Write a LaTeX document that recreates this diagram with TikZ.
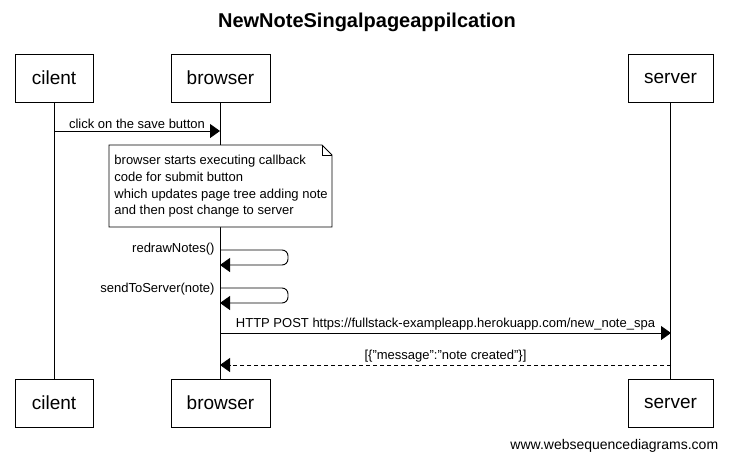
\documentclass[tikz,border=0pt]{standalone}
\usepackage{fontspec}
\setmainfont{Liberation Sans}
\usetikzlibrary{arrows.meta,positioning,calc}
\tikzset{
  actor/.style={draw,minimum height=48pt,inner sep=0pt,font=\fontsize{19}{22}\selectfont},
  msg/.style={-{Triangle[length=10pt,width=14pt]}},
  reply/.style={msg,dash pattern=on 4pt off 3pt},
  lbl/.style={font=\fontsize{13}{15}\selectfont,inner sep=1pt}
}
\begin{document}
\begin{tikzpicture}[x=1pt,y=-1pt,line width=0.9pt]
\useasboundingbox (0,0) rectangle (729,461);
\node[font=\bfseries\fontsize{20}{23}\selectfont] (title) at (367,22) {NewNoteSingalpageappilcation};
% participants, top and bottom
\node[actor,minimum width=78pt] (cilent) at (54,78) {cilent};
\node[actor,minimum width=99pt] (browser) at (220.5,78) {browser};
\node[actor,minimum width=85pt] (server) at (670.5,78) {server};
\node[actor,minimum width=78pt] (cilent2) at (54,403) {cilent};
\node[actor,minimum width=99pt] (browser2) at (220.5,403) {browser};
\node[actor,minimum width=85pt] (server2) at (670.5,403) {server};
\draw (cilent) -- (cilent2);
\draw (browser) -- (browser2);
\draw (server) -- (server2);
% message ends
\coordinate (m1a) at (54,131);
\coordinate (m1b) at (220,131);
\coordinate (r1a) at (220,250);
\coordinate (r1b) at (220,265);
\coordinate (r2a) at (220,288);
\coordinate (r2b) at (220,303);
\coordinate (m2a) at (220,333);
\coordinate (m2b) at (671,333);
\coordinate (m3a) at (671,365);
\coordinate (m3b) at (220,365);
\draw[msg] (m1a) -- node[lbl,above=1pt]{click on the save button} (m1b);
% note
\draw[fill=white] (109,145) -- (322,145) -- (332,155) -- (332,227) -- (109,227) -- cycle;
\draw (322,145) -- (322,155) -- (332,155);
\node[lbl,anchor=north west,align=left,font=\fontsize{13}{16.7}\selectfont] (note) at (113,154)
  {browser starts executing callback\\code for submit button\\which updates page tree adding note\\and then post change to server};
\draw[msg,rounded corners=6pt] (r1a) -- ++(68,0) -- ++(0,15) -- (r1b);
\node[lbl,anchor=east] (redraw) at (216,249) {redrawNotes()};
\draw[msg,rounded corners=6pt] (r2a) -- ++(68,0) -- ++(0,15) -- (r2b);
\node[lbl,anchor=east] (send) at (216,289) {sendToServer(note)};
\draw[msg] (m2a) -- node[lbl,above=1pt]{HTTP POST https://fullstack-exampleapp.herokuapp.com/new\_note\_spa} (m2b);
\draw[reply] (m3a) -- node[lbl,above=1pt]{[\{"message":"note created"\}]} (m3b);
\node[font=\fontsize{14}{16}\selectfont,anchor=east] (wsd) at (722,446) {www.websequencediagrams.com};
\end{tikzpicture}
\end{document}
